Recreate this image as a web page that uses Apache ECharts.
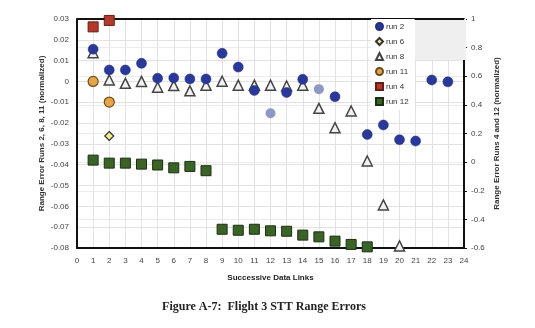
<!DOCTYPE html>
<html>
<head>
<meta charset="utf-8">
<script src="https://cdn.jsdelivr.net/npm/echarts@6/dist/echarts.min.js"></script>
<style>
  html, body { margin: 0; padding: 0; background: #fff; }
  #chart { width: 535px; height: 328px; }
</style>
</head>
<body>
<div id="chart"></div>
<script>
// Successive data links (x positions) and normalized range errors per run
const run2Links   = [1, 2, 3, 4, 5, 6, 7, 8, 9, 10, 11, 13, 14, 16, 18, 19, 20, 21, 22, 23];
const run2Values  = [0.0155, 0.0055, 0.0055, 0.0087, 0.0015, 0.0017, 0.0012, 0.0012, 0.0135, 0.0069, -0.0043, -0.0053, 0.0010, -0.0073, -0.0255, -0.0209, -0.0280, -0.0286, 0.0007, -0.0002];
const run2FaintLinks  = [12, 15];
const run2FaintValues = [-0.0153, -0.0037];

const run6Links   = [2];
const run6Values  = [-0.0262];

const run8Links   = [1, 2, 3, 4, 5, 6, 7, 8, 9, 10, 11, 12, 13, 14, 15, 16, 17, 18, 19, 20];
const run8Values  = [0.0138, 0.0007, -0.0009, 0.0000, -0.0028, -0.0020, -0.0045, -0.0018, 0.0001, -0.0018, -0.0018, -0.0018, -0.0022, -0.0018, -0.0129, -0.0222, -0.0142, -0.0382, -0.0593, -0.0790];

const run11Links  = [1, 2];
const run11Values = [0.0000, -0.0099];

// runs 4 and 12 use the right-hand axis
const run4Links   = [1, 2];
const run4Values  = [0.945, 0.99];

const run12Links  = [1, 2, 3, 4, 5, 6, 7, 8, 9, 10, 11, 12, 13, 14, 15, 16, 17, 18];
const run12Values = [0.014, -0.007, -0.007, -0.014, -0.02, -0.04, -0.03, -0.06, -0.469, -0.476, -0.469, -0.48, -0.483, -0.51, -0.522, -0.552, -0.575, -0.592];

const xTicks = { min: 0, max: 24, step: 1 };
const leftTicks = { min: -0.08, max: 0.03, step: 0.01 };
const rightTicks = { min: -0.6, max: 1, step: 0.2 };

const pairs = (xs, ys) => xs.map((x, i) => [x, ys[i]]);
const FONT = 'Liberation Sans';
const fmt = v => String(+v.toFixed(2));

const chart = echarts.init(document.getElementById('chart'), null, { renderer: 'canvas' });

chart.setOption({
  animation: false,
  backgroundColor: '#fff',
  textStyle: { fontFamily: FONT },
  title: {
    text: 'Figure A-7:  Flight 3 STT Range Errors',
    left: 259, top: 296, textAlign: 'center',
    textStyle: { fontFamily: 'Liberation Serif', fontWeight: 'bold', fontSize: 12, color: '#222' }
  },
  grid: { left: 77, right: 71, top: 19, bottom: 80 },
  legend: {
    orient: 'vertical',
    left: 371, top: 19,
    itemWidth: 7, itemHeight: 7, itemGap: 6,
    padding: [3, 6, 4, 4],
    backgroundColor: '#fff',
    textStyle: { fontSize: 8, color: '#333', fontFamily: FONT, padding: [0, 0, 0, -2] },
    data: ['run 2', 'run 6', 'run 8', 'run 11', 'run 4', 'run 12']
  },
  graphic: [{
    type: 'rect', z: 1, silent: true,
    shape: { x: 415, y: 19, width: 51, height: 41 },
    style: { fill: '#efefef' }
  }],
  xAxis: {
    type: 'value', min: xTicks.min, max: xTicks.max, interval: xTicks.step,
    name: 'Successive Data Links', nameLocation: 'middle', nameGap: 26,
    nameTextStyle: { fontSize: 8, fontWeight: 'bold', color: '#222' },
    axisLine: { onZero: false, lineStyle: { color: '#111', width: 2 } },
    axisTick: { show: false },
    axisLabel: { fontSize: 8, color: '#444', margin: 9 },
    splitLine: { show: true, lineStyle: { color: '#e2e2e2', width: 1 } }
  },
  yAxis: [{
    type: 'value', position: 'left',
    min: leftTicks.min, max: leftTicks.max, interval: leftTicks.step,
    name: 'Range Error Runs 2, 6, 8, 11 (normalized)', nameLocation: 'middle', nameGap: 31, nameRotate: 90,
    nameMoveOverlap: false,
    nameTextStyle: { fontSize: 8, fontWeight: 'bold', color: '#333' },
    axisLine: { show: true, onZero: false, lineStyle: { color: '#111', width: 2 } },
    axisTick: { show: false },
    axisLabel: { fontSize: 8, color: '#444', margin: 8, formatter: fmt },
    splitLine: { show: true, lineStyle: { color: '#e2e2e2', width: 1 } }
  }, {
    type: 'value', position: 'right',
    min: rightTicks.min, max: rightTicks.max, interval: rightTicks.step,
    name: 'Range Error Runs 4 and 12 (normalized)', nameLocation: 'middle', nameGap: 29, nameRotate: 90,
    nameMoveOverlap: false,
    nameTextStyle: { fontSize: 8, fontWeight: 'bold', color: '#333' },
    axisLine: { show: true, onZero: false, lineStyle: { color: '#111', width: 2 } },
    axisTick: { show: true, length: 3, lineStyle: { color: '#111' } },
    axisLabel: { fontSize: 8, color: '#444', margin: 7, formatter: fmt },
    splitLine: { show: true, lineStyle: { color: '#ececec', width: 1 } }
  }],
  series: [
    {
      // top border of the plot frame
      type: 'line', silent: true, symbol: 'none', yAxisIndex: 1, z: 3,
      data: [[xTicks.min, rightTicks.max], [xTicks.max, rightTicks.max]],
      lineStyle: { color: '#111', width: 2 }, tooltip: { show: false }
    },
    {
      name: 'run 8', type: 'scatter', yAxisIndex: 0, z: 4,
      symbol: 'triangle', symbolSize: 10,
      itemStyle: { color: '#f2f2f2', borderColor: '#444', borderWidth: 1.5, opacity: 1 },
      data: pairs(run8Links, run8Values)
    },
    {
      name: 'run 2', type: 'scatter', yAxisIndex: 0, z: 5,
      symbol: 'circle', symbolSize: 10,
      itemStyle: { color: '#2a389c', borderColor: '#222e80', borderWidth: 0.5, opacity: 1 },
      data: pairs(run2Links, run2Values)
    },
    {
      name: 'run 2 (faint)', type: 'scatter', yAxisIndex: 0, z: 5,
      symbol: 'circle', symbolSize: 10,
      itemStyle: { color: '#8f97c6', opacity: 1 },
      data: pairs(run2FaintLinks, run2FaintValues)
    },
    {
      name: 'run 6', type: 'scatter', yAxisIndex: 0, z: 5,
      symbol: 'diamond', symbolSize: 9,
      itemStyle: { color: '#f4ec86', borderColor: '#333', borderWidth: 1.2, opacity: 1 },
      data: pairs(run6Links, run6Values)
    },
    {
      name: 'run 11', type: 'scatter', yAxisIndex: 0, z: 5,
      symbol: 'circle', symbolSize: 10,
      itemStyle: { color: '#e8a548', borderColor: '#6e4b18', borderWidth: 1.2, opacity: 1 },
      data: pairs(run11Links, run11Values)
    },
    {
      name: 'run 4', type: 'scatter', yAxisIndex: 1, z: 5,
      symbol: 'rect', symbolSize: 10,
      itemStyle: { color: '#b3392a', borderColor: '#6a1d14', borderWidth: 1, opacity: 1 },
      data: pairs(run4Links, run4Values)
    },
    {
      name: 'run 12', type: 'scatter', yAxisIndex: 1, z: 5,
      symbol: 'rect', symbolSize: 10,
      itemStyle: { color: '#3a6326', borderColor: '#1c2f13', borderWidth: 1, opacity: 1 },
      data: pairs(run12Links, run12Values)
    }
  ]
});
</script>
</body>
</html>
